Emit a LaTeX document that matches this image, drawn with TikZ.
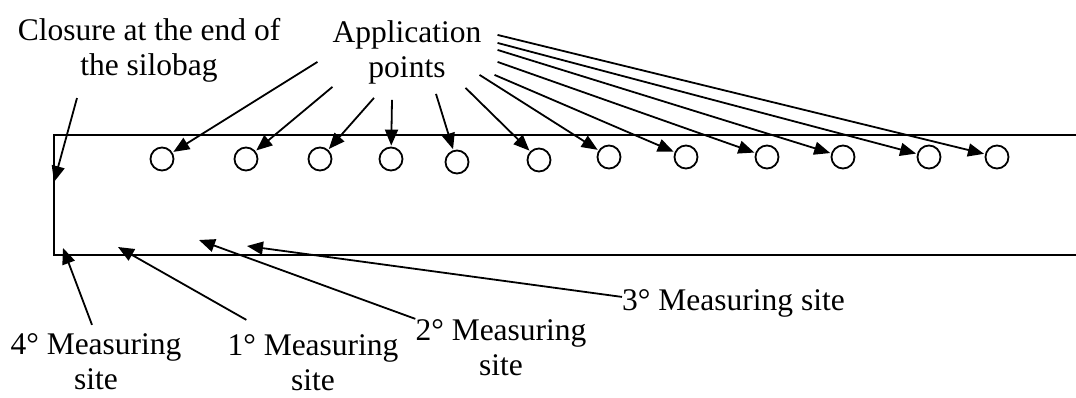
\documentclass[tikz,border=0pt]{standalone}
\usepackage{fontspec}
\setmainfont{Liberation Serif}
\usetikzlibrary{arrows.meta}

\begin{document}
\begin{tikzpicture}[x=1pt,y=-1pt,
  font=\fontsize{31.5}{35}\selectfont,
  lbl/.style={align=center,inner sep=0pt,anchor=base},
  pt/.style={draw,circle,line width=1.8pt,minimum size=23pt,inner sep=0pt},
  ar/.style={-{Triangle[length=16pt,width=13pt]},line width=1.8pt}]

\useasboundingbox (0,0) rectangle (1076,397);

% silobag, open towards the right edge
\draw[line width=1.8pt] (1076,135) -- (54,135) -- (54,255) -- (1076,255);

\foreach \x/\y [count=\i] in {162/159,246/159,320/159,391/159,457/162,539/160,
    609/157,686/157,767/157,843/157,929/157,997/157}
  \node[pt] (p\i) at (\x,\y) {};

% base = baseline of the last line
\node[lbl] (clo) at (149,75) {Closure at the end of\\the silobag};
\node[lbl] (app) at (407,77) {Application\\points};
\node[lbl] (m4) at (96,389) {4° Measuring\\site};
\node[lbl] (m1) at (313,390) {1° Measuring\\site};
\node[lbl] (m2) at (501,375) {2° Measuring\\site};
\node[lbl,anchor=base west] (m3) at (622,310) {3° Measuring site};

\coordinate (hc) at (54,182);
\coordinate (h4) at (63,248);
\coordinate (h1) at (118,247);
\coordinate (h2) at (199,240);
\coordinate (h3) at (247,246);

\draw[ar] ([xshift=-72pt,yshift=-16pt]clo.south) -- (hc);

% application points
\foreach \dx/\dy/\a/\i in {-15/-10/west/1, 0/-3/south west/2, -33/-14/south/3,
    -15/-16/south/4, 29/-10/south/5, -16/-4/south east/6, -2/9/south east/7,
    13/9/south east/8, 16/-10/east/9, 16/2/east/10, 16/9/east/11, 16/17/east/12}
  \draw[ar,shorten >=1pt] ([xshift=\dx pt,yshift=\dy pt]app.\a) -- (p\i);

% measuring sites
\draw[ar] ([xshift=-4pt,yshift=8pt]m4.north) -- (h4);
\draw[ar] ([xshift=19pt,yshift=14pt]m1.north west) -- (h1);
\draw[ar] (m2.north west) -- (h2);
\draw[ar] ([yshift=6pt]m3.west) -- (h3);
\end{tikzpicture}
\end{document}
